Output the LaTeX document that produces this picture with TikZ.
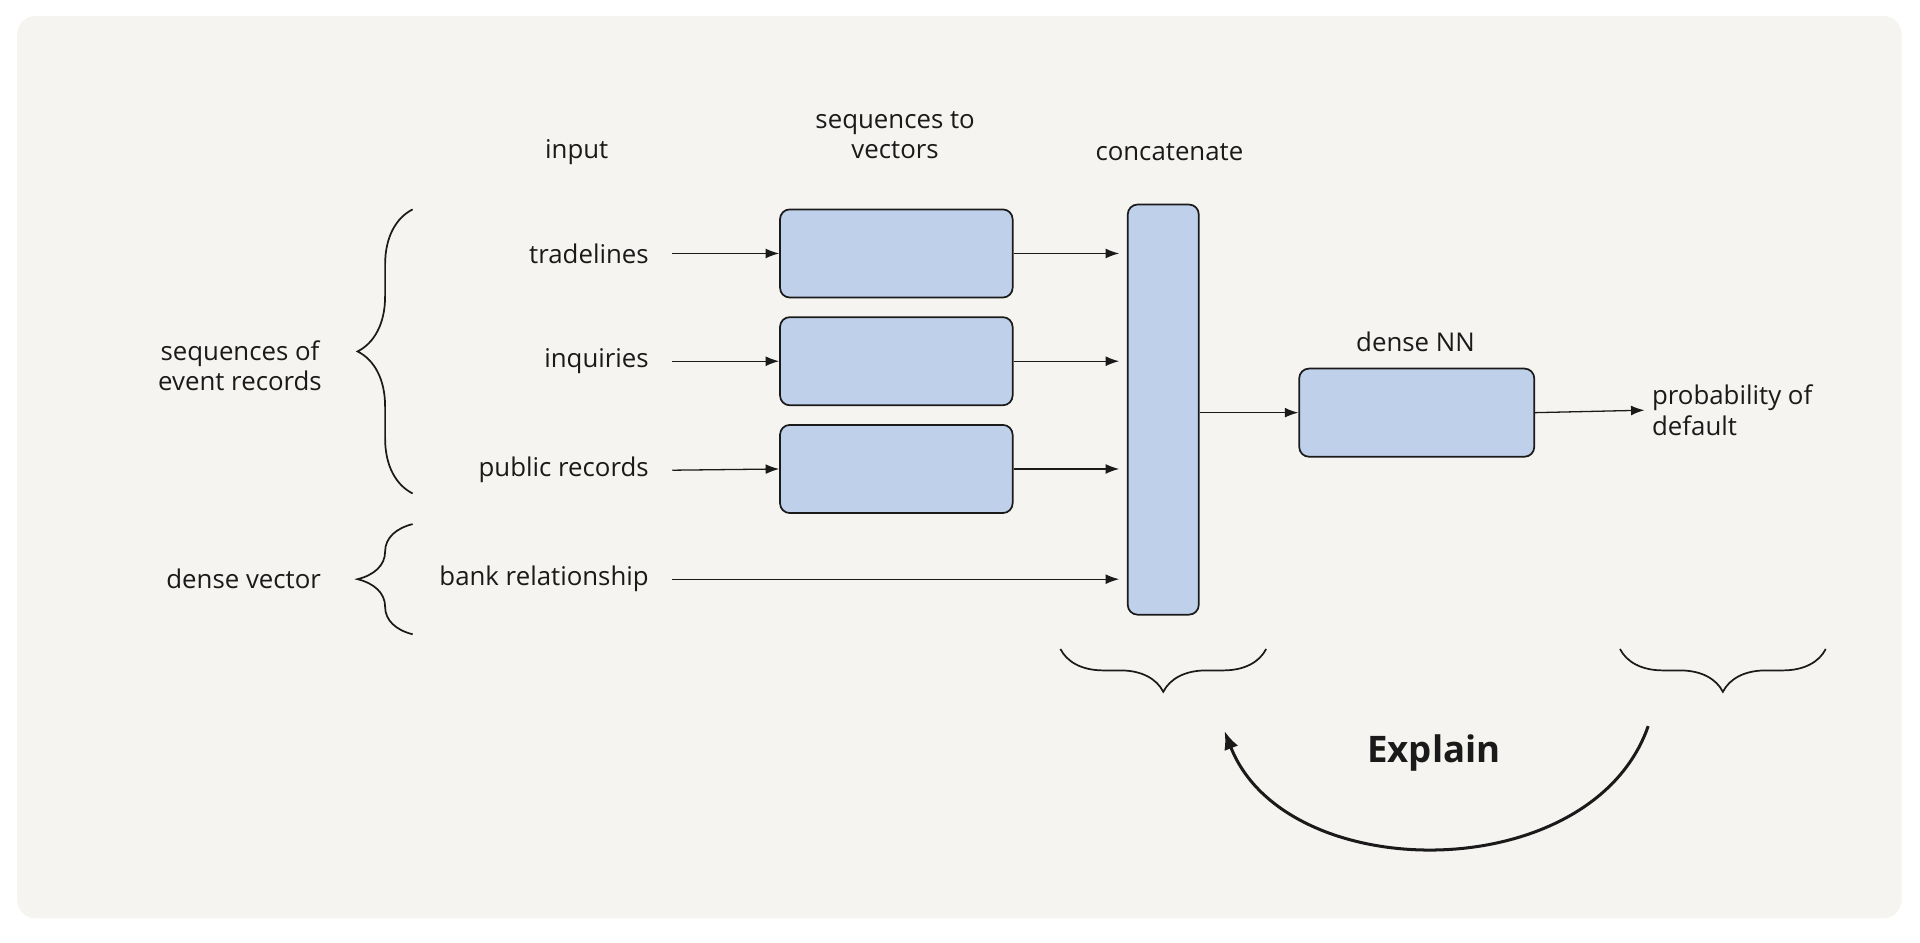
\documentclass[tikz,border=0pt]{standalone}
\usepackage{fontspec}
\setmainfont{Open Sans}
\usetikzlibrary{arrows.meta, positioning, decorations.pathreplacing}
\definecolor{bgcol}{HTML}{F5F4F1}
\definecolor{boxcol}{HTML}{BFD1EA}
\definecolor{inkcol}{HTML}{1A1A1A}

\begin{document}
\begin{tikzpicture}[x=0.02cm, y=-0.02cm,
    every node/.style={font=\fontsize{12}{14}\selectfont, text=inkcol},
    seqbox/.style={rectangle, draw=inkcol, fill=boxcol, rounded corners=0.16cm, line width=0.8pt},
    arrow/.style={-{Latex[length=2.2mm, width=1.6mm]}, draw=inkcol, line width=0.6pt},
    lbrace/.style={decorate, decoration={brace, amplitude=0.9cm}, draw=inkcol, line width=0.8pt},
    bbrace/.style={decorate, decoration={brace, amplitude=0.7cm}, draw=inkcol, line width=0.8pt},
    head/.style={align=center}
]
% Background
\useasboundingbox (0,0) rectangle (1568,770);
\fill[bgcol, rounded corners=0.3cm] (14,13) rectangle (1553,750);

% Headings
\node[head] (h_input) at (471,124) {input};
\node[head] (h_seq) at (731,110) {sequences to\\vectors};
\node[head] (h_cat) at (955,124) {concatenate};
\node[head] (h_nn) at (1156,279) {dense NN};

% Inputs
\node[anchor=east] (trade) at (536,207) {tradelines};
\node[anchor=east] (inq) at (536,295) {inquiries};
\node[anchor=east] (pub) at (536,384) {public records};
\node[anchor=east] (bank) at (536,473) {bank relationship};

% Sequence encoders
\node[seqbox, minimum width=3.8cm, minimum height=1.44cm] (enc1) at (732,207) {};
\node[seqbox, minimum width=3.8cm, minimum height=1.44cm] (enc2) at (732,295) {};
\node[seqbox, minimum width=3.8cm, minimum height=1.44cm] (enc3) at (732,383) {};

% Concatenate and dense NN
\node[seqbox, minimum width=1.16cm, minimum height=6.7cm] (concat) at (950,334.5) {};
\node[seqbox, minimum width=3.84cm, minimum height=1.44cm] (dense) at (1157,337) {};
\node[anchor=west, align=left] (out) at (1343,335) {probability of\\default};

% Arrows
\draw[arrow] (trade.east)+(13,0) -- (enc1.west);
\draw[arrow] (inq.east)+(13,0) -- (enc2.west);
\draw[arrow] (pub.east)+(13,0) -- (enc3.west);
\draw[arrow] (enc1.east) -- (914,207);
\draw[arrow] (enc2.east) -- (914,295);
\draw[arrow] (enc3.east) -- (914,383);
\draw[arrow] (bank.east)+(13,0) -- (914,473);
\draw[arrow] (concat.east |- dense.west) -- (dense.west);
\draw[arrow] (dense.east) -- (out.west);

% Left braces
\coordinate (b1s) at (337,403);
\coordinate (b1e) at (337,171);
\draw[lbrace] (b1s) -- (b1e);
\node[align=center] (seqlab) at (196,299) {sequences of\\event records};
\coordinate (b2s) at (337,518);
\coordinate (b2e) at (337,428);
\draw[lbrace] (b2s) -- (b2e);
\node (denselab) at (199,473) {dense vector};

% Bottom braces
\coordinate (c1s) at (1034,530);
\coordinate (c1e) at (866,530);
\draw[bbrace] (c1s) -- (c1e);
\coordinate (c2s) at (1491,530);
\coordinate (c2e) at (1323,530);
\draw[bbrace] (c2s) -- (c2e);

% Explain
\node[font=\fontsize{17}{20}\selectfont\bfseries] (explain) at (1171,615) {Explain};
\coordinate (ex_s) at (1346,593);
\coordinate (ex_e) at (1000,597);
\draw[-{Latex[length=3mm, width=2.4mm]}, draw=inkcol, line width=1.4pt]
    (ex_s) .. controls (1300,725) and (1050,725) .. (ex_e);
\end{tikzpicture}
\end{document}
